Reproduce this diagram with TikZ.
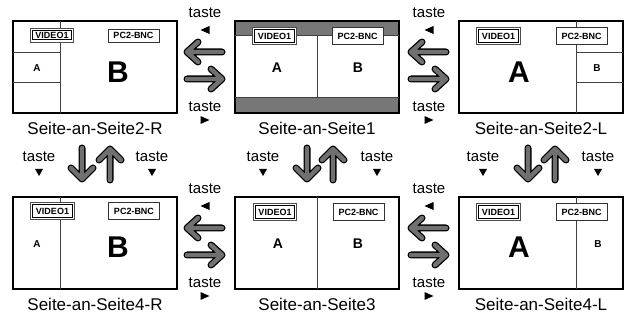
\documentclass[tikz,border=0pt]{standalone}
\usepackage{fontspec}
\setmainfont{Liberation Sans}
\definecolor{arrowgray}{HTML}{707070}
\definecolor{bargray}{HTML}{777777}
\begin{document}
\begin{tikzpicture}[x=1pt,y=-1pt,
  frame/.style={draw=black,line width=1.2pt},
  divider/.style={draw=black!75,line width=0.9pt},
  fat/.style={draw=black,line width=7pt,line cap=round,line join=round,
     postaction={draw=arrowgray,line width=4.4pt,line cap=round,line join=round}},
  vtag/.style={fill=white,inner sep=0pt,minimum width=43pt,font=\fontsize{9}{9}\selectfont\bfseries},
  ptag/.style={draw=black!80,line width=0.8pt,fill=white,inner sep=0pt,minimum width=51pt,
     font=\fontsize{9}{9}\selectfont\bfseries},
  bigletter/.style={font=\fontsize{30}{30}\selectfont\bfseries},
  midletter/.style={font=\fontsize{14}{14}\selectfont\bfseries},
  smallletter/.style={font=\fontsize{10}{10}\selectfont\bfseries},
  plabel/.style={font=\fontsize{17}{17}\selectfont},
  keylabel/.style={font=\fontsize{15}{15}\selectfont}
]
\useasboundingbox (0,0) rectangle (624,320);
\fill[white] (0,0) rectangle (624,320);

% ---------- Panel 1: Seite-an-Seite2-R
\draw[frame] (13,21) rectangle (177,113);
\draw[divider] (60,21) -- (60,113);
\draw[divider] (13,52) -- (60,52);
\draw[divider] (13,82) -- (60,82);
\node[vtag,minimum height=13.5pt] (v1) at (52,35) {VIDEO1};
\node[ptag,minimum height=13pt] (c1) at (133.5,35.5) {PC2-BNC};
\node[smallletter] (a1) at (37,68.5) {A};
\node[bigletter] (b1) at (118,72) {B};
\node[plabel] (l1) at (95,128) {Seite-an-Seite2-R};

% ---------- Panel 2: Seite-an-Seite1
\fill[bargray] (235,21) rectangle (399,35.5);
\fill[bargray] (235,97.5) rectangle (399,113);
\draw[frame] (235,21) rectangle (399,113);
\draw[divider] (235,35.5) -- (399,35.5);
\draw[divider] (235,97.5) -- (399,97.5);
\draw[divider] (317,35.5) -- (317,97.5);
\node[vtag,minimum height=17pt] (v2) at (274.5,36) {VIDEO1};
\node[ptag,minimum height=17pt] (c2) at (357.5,36) {PC2-BNC};
\node[midletter] (a2) at (277,68) {A};
\node[midletter] (b2) at (358,68) {B};
\node[plabel] (l2) at (317,128) {Seite-an-Seite1};

% ---------- Panel 3: Seite-an-Seite2-L
\draw[frame] (459,21) rectangle (623,113);
\draw[divider] (576,21) -- (576,113);
\draw[divider] (576,52) -- (623,52);
\draw[divider] (576,82) -- (623,82);
\node[vtag,minimum height=17pt] (v3) at (498.5,36) {VIDEO1};
\node[ptag,minimum height=17pt] (c3) at (581.5,36) {PC2-BNC};
\node[bigletter] (a3) at (519,72) {A};
\node[smallletter] (b3) at (597,68) {B};
\node[plabel] (l3) at (541,128) {Seite-an-Seite2-L};

% ---------- Panel 4: Seite-an-Seite4-R
\draw[frame] (13,197) rectangle (177,289);
\draw[divider] (60,197) -- (60,289);
\node[vtag,minimum height=17pt] (v4) at (52.5,211) {VIDEO1};
\node[ptag,minimum height=17pt] (c4) at (134,211) {PC2-BNC};
\node[smallletter] (a4) at (37,244) {A};
\node[bigletter] (b4) at (118,247) {B};
\node[plabel] (l4) at (95,304) {Seite-an-Seite4-R};

% ---------- Panel 5: Seite-an-Seite3
\draw[frame] (235,197) rectangle (399,289);
\draw[divider] (317,197) -- (317,289);
\node[vtag,minimum height=17pt] (v5) at (275,212) {VIDEO1};
\node[ptag,minimum height=17pt] (c5) at (358.5,212) {PC2-BNC};
\node[midletter] (a5) at (278,244) {A};
\node[midletter] (b5) at (358,244) {B};
\node[plabel] (l5) at (317,304) {Seite-an-Seite3};

% ---------- Panel 6: Seite-an-Seite4-L
\draw[frame] (459,197) rectangle (623,289);
\draw[divider] (576,197) -- (576,289);
\node[vtag,minimum height=17pt] (v6) at (498.5,212) {VIDEO1};
\node[ptag,minimum height=17pt] (c6) at (581.5,212) {PC2-BNC};
\node[bigletter] (a6) at (519,247) {A};
\node[smallletter] (b6) at (598,244) {B};
\node[plabel] (l6) at (541,304) {Seite-an-Seite4-L};

% ---------- double borders of the VIDEO1 tags
\foreach \v in {v1,v2,v3,v4,v5,v6}{
  \draw[black!70,line width=0.7pt] (\v.north west) rectangle (\v.south east);
  \draw[black,line width=1pt] ([shift={(2,2)}]\v.north west) rectangle ([shift={(-2,-2)}]\v.south east);
}

% ---------- horizontal arrows with keys
\foreach \cx/\cy [count=\i] in {205/0,429/0,205/176,429/176}{
  \node[keylabel] (tu\i) at (\cx,13+\cy) {taste};
  \fill (\cx-4.5,30+\cy) -- ++(9,-4) -- ++(0,8) -- cycle;
  \draw[fat] (\cx+17,52+\cy) -- (\cx-18,52+\cy)
             (\cx-18,52+\cy) -- ++(11,-10)
             (\cx-18,52+\cy) -- ++(11,10);
  \draw[fat] (\cx-18,79+\cy) -- (\cx+17,79+\cy)
             (\cx+17,79+\cy) -- ++(-11,-10)
             (\cx+17,79+\cy) -- ++(-11,10);
  \node[keylabel] (td\i) at (\cx,107+\cy) {taste};
  \fill (\cx+4.5,120+\cy) -- ++(-9,-4) -- ++(0,8) -- cycle;
}

% ---------- vertical arrows with keys
\foreach \dx/\ux/\kl/\kr [count=\i] in {82/110/39/152, 307/333/263/377, 528/555/483/598}{
  \node[keylabel] (kl\i) at (\kl,157) {taste};
  \fill (\kl-4,169) -- (\kl+4,169) -- (\kl,176) -- cycle;
  \node[keylabel] (kr\i) at (\kr,157) {taste};
  \fill (\kr-4,169) -- (\kr+4,169) -- (\kr,176) -- cycle;
  \draw[fat] (\dx,148) -- (\dx,179)
             (\dx,179) -- ++(-11,-11)
             (\dx,179) -- ++(11,-11);
  \draw[fat] (\ux,180) -- (\ux,149)
             (\ux,149) -- ++(-11,11)
             (\ux,149) -- ++(11,11);
}
\end{tikzpicture}
\end{document}
